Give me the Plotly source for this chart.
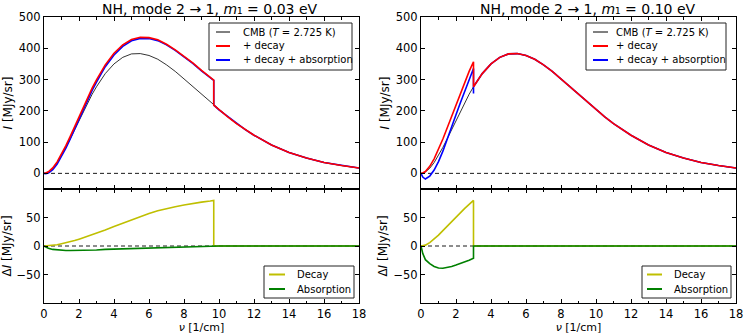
import plotly.graph_objects as go
from plotly.subplots import make_subplots

# frequency grid [1/cm]
nu = [0, 0.1, 0.25, 0.5, 0.75, 1.0, 1.25, 1.5, 1.75, 2.0, 2.25, 2.5, 2.75, 3.0,
      3.5, 4.0, 4.5, 5.0, 5.5, 6.0, 6.5, 7.0, 7.5, 8.0, 8.5, 9.0, 9.5, 9.7,
      10.0, 10.5, 11, 11.5, 12, 13, 14, 15, 16, 17, 18]

# CMB intensity [MJy/sr]
cmb = [0, 0.7, 4.4, 16.4, 34.5, 57, 83, 111, 140, 170, 198, 226, 253, 277,
       319, 350, 371, 382, 383, 377, 365, 347, 326, 302, 278, 252, 227, 218,
       203, 181, 159, 140, 122, 91, 67, 49, 35, 25, 17]

# m1 = 0.03 eV
decay_a = [0, 0.2, 0.5, 1.2, 2.3, 4, 5.5, 7.5, 9.5, 12, 14.5, 17, 19.5, 22,
           28, 34, 40, 46, 52, 57, 62, 66, 69, 72, 75, 77, 79, 80,
           0, 0, 0, 0, 0, 0, 0, 0, 0, 0, 0]
absorb_a = [0, -2, -4, -6, -7, -7.5, -7.8, -8, -8, -8, -7.8, -7.5, -7.2, -7,
            -6, -5.5, -5, -4, -3.5, -3, -2.5, -2, -1.7, -1.5, -1.2, -1, -0.6, -0.5,
            0, 0, 0, 0, 0, 0, 0, 0, 0, 0, 0]
cut_a = 27  # index of nu = 9.7

# m1 = 0.10 eV
decay_b = [0, 0.5, 1.5, 6, 12, 19, 27, 35, 43, 51, 59, 66, 73, 80,
           0, 0, 0, 0, 0, 0, 0, 0, 0, 0, 0, 0, 0, 0,
           0, 0, 0, 0, 0, 0, 0, 0, 0, 0, 0]
absorb_b = [0, -13, -24, -31, -36, -38.5, -39, -38, -36, -33.5, -31, -28, -25, -21.5,
            0, 0, 0, 0, 0, 0, 0, 0, 0, 0, 0, 0, 0, 0,
            0, 0, 0, 0, 0, 0, 0, 0, 0, 0, 0]
cut_b = 13  # index of nu = 3.0

titles = ["NH, mode 2 → 1, <i>m</i>₁ = 0.03 eV",
          "NH, mode 2 → 1, <i>m</i>₁ = 0.10 eV"]
top_labels = ["CMB (<i>T</i> = 2.725 K)", "+ decay", "+ decay + absorption"]
top_colors = ["black", "#ff0000", "#0000ff"]
bot_labels = ["Decay", "Absorption"]
bot_colors = ["#bfbf00", "#008000"]


def jump(x, before, after, k):
    return x[:k + 1] + [x[k]] + x[k + 1:], before[:k + 1] + [after[k]] + after[k + 1:]


def add(a, b):
    return [p + q for p, q in zip(a, b)]


W, H = 747, 335
ml, mr, mt, mb = 44, 11, 17, 32
pw, ph = W - ml - mr, H - mt - mb


def px(x):
    return (x - ml) / pw


def py(y):
    return 1 - (y - mt) / ph


fig = make_subplots(rows=2, cols=2, row_heights=[172, 114], vertical_spacing=0,
                    horizontal_spacing=0.09)

FONT = "DejaVu Sans"
panels = [(1, decay_a, absorb_a, cut_a), (2, decay_b, absorb_b, cut_b)]

for col, dec, ab, k in panels:
    red = add(cmb, dec)
    blue = add(red, ab)
    xr, yr = jump(nu, red, cmb, k)
    xb, yb = jump(nu, blue, add(cmb, ab), k)
    xb, yb = xb[:k + 2] + [nu[k]] + xb[k + 2:], yb[:k + 2] + [cmb[k]] + yb[k + 2:]
    fig.add_trace(go.Scatter(x=nu, y=cmb, mode="lines", name=top_labels[0],
                             line=dict(color="black", width=0.8)), row=1, col=col)
    fig.add_trace(go.Scatter(x=xb, y=yb, mode="lines", name=top_labels[2],
                             line=dict(color="#0000ff", width=1.6)), row=1, col=col)
    fig.add_trace(go.Scatter(x=xr, y=yr, mode="lines", name=top_labels[1],
                             line=dict(color="#ff0000", width=1.6)), row=1, col=col)
    xd, yd = jump(nu, dec, [0] * len(nu), k)
    xa, ya = jump(nu, ab, [0] * len(nu), k)
    fig.add_trace(go.Scatter(x=xd, y=yd, mode="lines", name="Decay",
                             line=dict(color="#bfbf00", width=1.6)), row=2, col=col)
    fig.add_trace(go.Scatter(x=xa, y=ya, mode="lines", name="Absorption",
                             line=dict(color="#008000", width=1.6)), row=2, col=col)
    for r in (1, 2):
        fig.add_shape(type="line", x0=0, x1=18, y0=0, y1=0, layer="below",
                      line=dict(color="black", width=0.9, dash="4px,3px"),
                      row=r, col=col)

# axes
xdom = [[0, px(359)], [px(421), 1]]
ytop = [py(189), 1]
ybot = [0, py(189)]
axis_common = dict(showline=True, mirror="allticks", linecolor="black", linewidth=1,
                   ticks="inside", ticklen=4, tickcolor="black", showgrid=False,
                   zeroline=False, automargin=False,
                   tickfont=dict(family=FONT, size=11.5, color="black"))
for col in (1, 2):
    fig.update_xaxes(range=[0, 18], domain=xdom[col - 1], dtick=2, tick0=0,
                     minor=dict(dtick=1, ticklen=2.5, ticks="inside", tickcolor="black"),
                     showticklabels=False, row=1, col=col, **axis_common)
    fig.update_xaxes(range=[0, 18], domain=xdom[col - 1], dtick=2, tick0=0,
                     minor=dict(dtick=1, ticklen=2.5, ticks="inside", tickcolor="black"),
                     title=dict(text="<i>ν</i> [1/cm]", standoff=2,
                                font=dict(family=FONT, size=11, color="black")),
                     row=2, col=col, **axis_common)
    fig.update_yaxes(range=[-50, 500], domain=ytop, tickvals=[0, 100, 200, 300, 400, 500],
                     title=dict(text="<i>I</i> [MJy/sr]", standoff=3,
                                font=dict(family=FONT, size=12, color="black")),
                     row=1, col=col, **axis_common)
    fig.update_yaxes(range=[-100, 100], domain=ybot, tickvals=[-50, 0, 50],
                     title=dict(text="Δ<i>I</i> [MJy/sr]", standoff=3,
                                font=dict(family=FONT, size=12, color="black")),
                     row=2, col=col, **axis_common)


# hand-drawn legends (matplotlib-like compact boxes)
def legend(box, line_x, text_x, rows, labels, colors, widths):
    x0, y0, x1, y1 = box
    fig.add_shape(type="rect", xref="paper", yref="paper", x0=px(x0), x1=px(x1),
                  y0=py(y0), y1=py(y1), fillcolor="white",
                  line=dict(color="#222222", width=1), layer="above")
    for yy, lab, c, w in zip(rows, labels, colors, widths):
        fig.add_shape(type="line", xref="paper", yref="paper", x0=px(line_x[0]),
                      x1=px(line_x[1]), y0=py(yy), y1=py(yy),
                      line=dict(color=c, width=w), layer="above")
        fig.add_annotation(text=lab, x=px(text_x), y=py(yy), xref="paper", yref="paper",
                           xanchor="left", yanchor="middle", showarrow=False,
                           font=dict(family=FONT, size=10, color="black"))


legend((209, 23, 352, 70), (216, 230), 241, [32, 46, 60], top_labels, top_colors,
       [1, 2, 2])
legend((586, 23, 726, 70), (593, 608), 614, [32, 46, 60], top_labels, top_colors,
       [1, 2, 2])
legend((264, 266, 354, 298), (269, 285), 295, [274.5, 289], bot_labels, bot_colors,
       [2, 2])
legend((642, 266, 731, 298), (647, 662), 672, [274.5, 289], bot_labels, bot_colors,
       [2, 2])

for x_start, t in zip((100, 478), titles):
    fig.add_annotation(text=t, x=px(x_start), y=1, xref="paper", yref="paper",
                       xanchor="left", yanchor="bottom", showarrow=False, yshift=-2,
                       font=dict(family=FONT, size=14, color="black"))

fig.update_layout(width=W, height=H, margin=dict(l=ml, r=mr, t=mt, b=mb),
                  paper_bgcolor="white", plot_bgcolor="white", showlegend=False,
                  font=dict(family=FONT, color="black"))

fig.write_html("out.html", config={"displayModeBar": False},
               post_script="document.body.style.margin='0px';")
